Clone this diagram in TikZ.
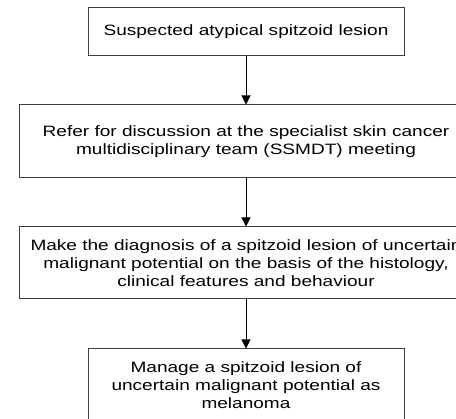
\documentclass[tikz,border=0pt]{standalone}
\usepackage{fontspec}
\setmainfont{Liberation Sans}[FakeStretch=1.27]
\usepackage{tikz}
\usetikzlibrary{arrows.meta}

\tikzset{
  stepbox/.style={draw=black!75, line width=1pt, align=center, inner sep=0pt,
    font=\fontsize{15pt}{18pt}\selectfont},
  flow/.style={line width=1pt, -{Triangle[width=9pt,length=9pt]}}
}

\begin{document}
\begin{tikzpicture}[x=1pt, y=-1pt]
\useasboundingbox (0,0) rectangle (456,419);
\clip (0,0) rectangle (456,419);
\node[stepbox, minimum width=316pt, minimum height=48pt] (suspect) at (246, 32) {Suspected atypical spitzoid lesion};
\node[stepbox, minimum width=454pt, minimum height=73pt] (refer) at (246, 141.5) {Refer for discussion at the specialist skin cancer\\multidisciplinary team (SSMDT) meeting};
\node[stepbox, minimum width=454pt, minimum height=72pt] (diagnose) at (246, 263) {Make the diagnosis of a spitzoid lesion of uncertain\\malignant potential on the basis of the histology,\\clinical features and behaviour};
\node[stepbox, minimum width=316pt, minimum height=72pt] (manage) at (246, 385) {Manage a spitzoid lesion of\\uncertain malignant potential as\\melanoma};

\draw[flow] (suspect) -- (refer);
\draw[flow] (refer) -- (diagnose);
\draw[flow] (diagnose) -- (manage);
\end{tikzpicture}
\end{document}
